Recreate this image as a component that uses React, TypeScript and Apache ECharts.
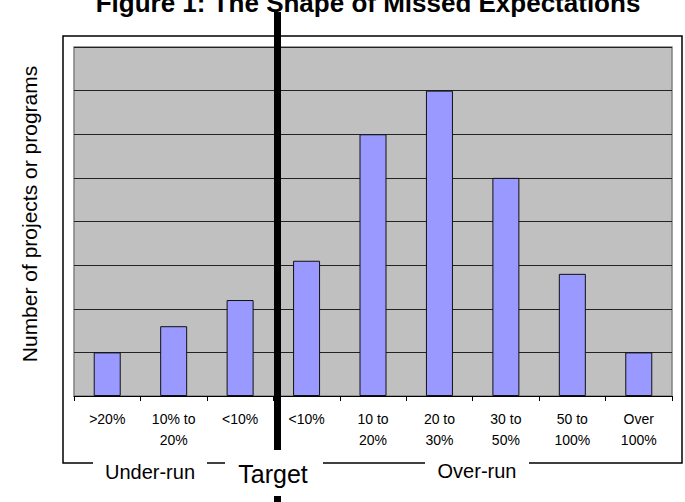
import React, { useEffect, useRef } from "react";
import * as echarts from "echarts";

const categories = [">20%", "10% to\n20%", "<10%", "<10%", "10 to\n20%", "20 to\n30%", "30 to\n50%", "50 to\n100%", "Over\n100%"];
const counts = [1, 1.6, 2.2, 3.1, 6, 7, 5, 2.8, 1];
const yTicks = { min: 0, max: 8, interval: 1 };
const titleText = "Figure 1: The Shape of Missed Expectations";
const yAxisTitle = "Number of projects or programs";
const groupLabels = ["Under-run", "Target", "Over-run"];

const FONT = "'Liberation Sans', Arial, sans-serif";

export default function App() {
  const ref = useRef<HTMLDivElement>(null);
  useEffect(() => {
    if (!ref.current) return;
    const chart = echarts.init(ref.current, undefined, { renderer: "svg" });
    const line = (points: number[][]) => ({
      type: "polyline",
      shape: { points },
      style: { stroke: "#000", lineWidth: 1.5, fill: null },
      silent: true,
    });
    chart.setOption({
      animation: false,
      backgroundColor: "#fff",
      grid: {
        left: 74,
        top: 47,
        right: 13,
        bottom: 106,
        show: true,
        backgroundColor: "#c0c0c0",
        borderColor: "#808080",
        borderWidth: 1.5,
      },
      xAxis: {
        type: "category",
        data: categories,
        boundaryGap: true,
        axisLine: { show: true, lineStyle: { color: "#000", width: 1 } },
        axisTick: { show: true, alignWithLabel: false, interval: 0, length: 5, lineStyle: { color: "#000" } },
        axisLabel: {
          interval: 0,
          margin: 12,
          color: "#000",
          fontFamily: FONT,
          fontSize: 14,
          lineHeight: 21,
        },
      },
      yAxis: {
        type: "value",
        min: yTicks.min,
        max: yTicks.max,
        interval: yTicks.interval,
        axisLine: { show: false },
        axisTick: { show: false },
        axisLabel: { show: false },
        splitLine: { show: true, lineStyle: { color: "#222", width: 1.2 } },
      },
      series: [
        {
          type: "bar",
          data: counts,
          barWidth: 27,
          itemStyle: { color: "#9999ff", borderColor: "#111", borderWidth: 1 },
        },
      ],
      graphic: [
        // outer frame
        line([[93, 463], [63, 463], [63, 36], [682, 36], [682, 463], [529, 463]]),
        line([[207, 463], [225, 463]]),
        line([[323, 463], [425, 463]]),
        {
          type: "text",
          x: 368,
          y: 3,
          silent: true,
          style: {
            text: titleText,
            font: `bold 26px ${FONT}`,
            fill: "#000",
            align: "center",
            verticalAlign: "middle",
          },
        },
        {
          type: "text",
          x: 29,
          y: 214,
          rotation: Math.PI / 2,
          silent: true,
          style: {
            text: yAxisTitle,
            font: `21px ${FONT}`,
            fill: "#000",
            align: "center",
            verticalAlign: "middle",
          },
        },
        {
          type: "text",
          x: 150,
          y: 472,
          silent: true,
          style: { text: groupLabels[0], font: `20px ${FONT}`, fill: "#000", align: "center", verticalAlign: "middle" },
        },
        {
          type: "text",
          x: 273,
          y: 474,
          silent: true,
          style: { text: groupLabels[1], font: `25px ${FONT}`, fill: "#000", align: "center", verticalAlign: "middle" },
        },
        {
          type: "text",
          x: 477,
          y: 471,
          silent: true,
          style: { text: groupLabels[2], font: `20px ${FONT}`, fill: "#000", align: "center", verticalAlign: "middle" },
        },
        // target line
        { type: "rect", silent: true, z: 100, shape: { x: 274, y: 12, width: 7, height: 438 }, style: { fill: "#000" } },
        { type: "rect", silent: true, z: 100, shape: { x: 274, y: 496, width: 7, height: 6 }, style: { fill: "#000" } },
      ],
    });
    return () => chart.dispose();
  }, []);
  return <div ref={ref} style={{ width: 685, height: 502, position: "absolute", left: 0, top: 0 }} />;
}
